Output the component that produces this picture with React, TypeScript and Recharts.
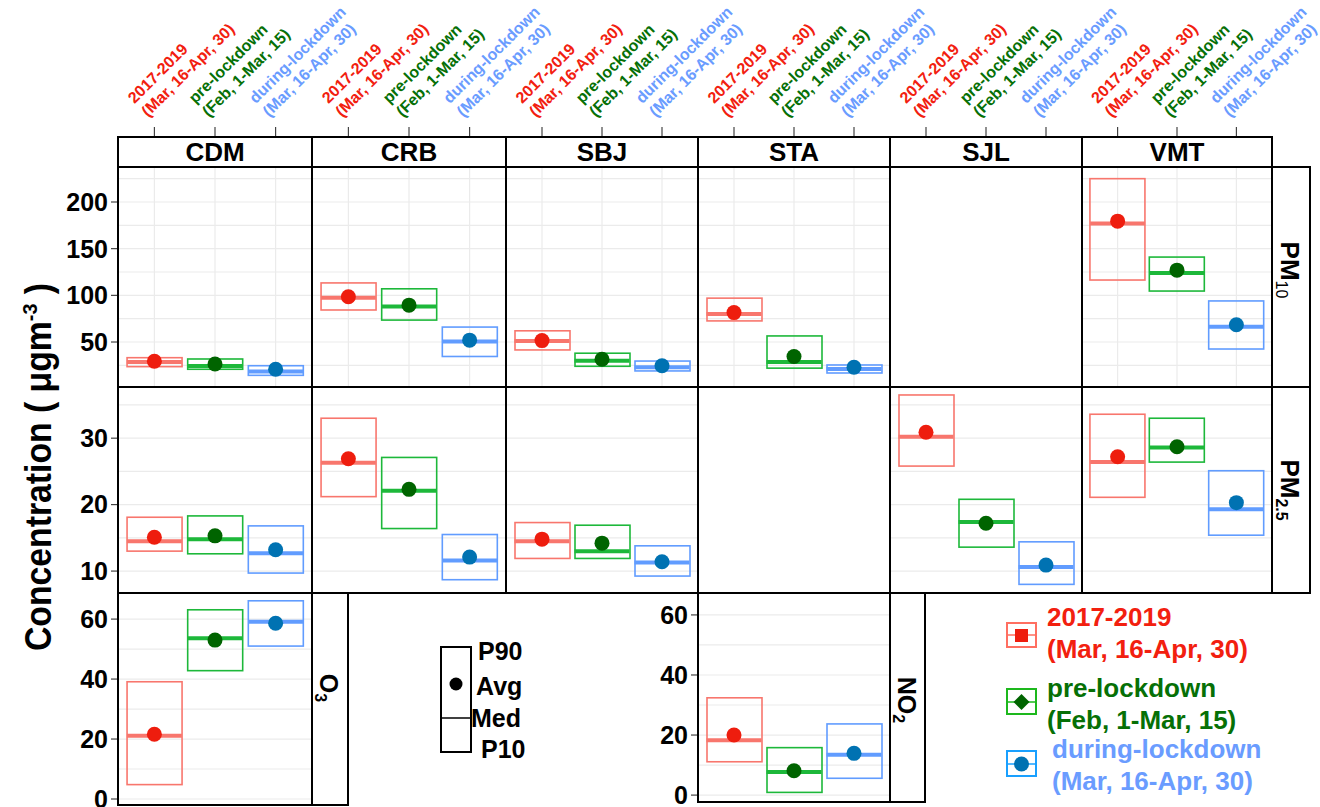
import React from 'react';
import { ComposedChart, Bar, Scatter, XAxis, YAxis, CartesianGrid } from 'recharts';

const FONT = '"Liberation Sans", Arial, Helvetica, sans-serif';

// ---------- data ----------
const periods = ['2017-2019', 'pre-lockdown', 'during-lockdown'];
const periodDates = ['(Mar, 16-Apr, 30)', '(Feb, 1-Mar, 15)', '(Mar, 16-Apr, 30)'];
const stations = ['CDM', 'CRB', 'SBJ', 'STA', 'SJL', 'VMT'];

// PM10 (per station: [2017-2019, pre-lockdown, during-lockdown]); null = no data
const pm10P10 = [[23.6, 20.8, 14.3], [84.3, 73.5, 34.5], [41.5, 24, 19], [72.6, 22, 16.8], null, [116.4, 104.6, 42.5]];
const pm10P90 = [[33.2, 31.8, 24.6], [113.3, 107, 66], [62, 38, 29.6], [97, 56.5, 25.4], null, [225, 141, 94]];
const pm10Med = [[28.6, 24.3, 18.3], [97.5, 88, 50.5], [51, 30, 23], [80, 28.6, 21], null, [177, 124, 66.4]];
const pm10Avg = [[29.4, 26.4, 20.8], [98.5, 89.5, 52], [51.5, 31.5, 24.5], [81.5, 34.5, 23], null, [179.5, 127, 68.5]];

// PM2.5
const pm25P10 = [[13.0, 12.6, 9.7], [21.2, 16.4, 8.7], [11.9, 11.9, 9.25], null, [25.8, 13.6, 8.0], [21.1, 26.4, 15.4]];
const pm25P90 = [[18.1, 18.3, 16.8], [33.0, 27.1, 15.5], [17.3, 16.9, 13.8], null, [36.5, 20.8, 14.4], [33.6, 33.0, 25.1]];
const pm25Med = [[14.5, 14.8, 12.7], [26.3, 22.1, 11.6], [14.5, 13.0, 11.3], null, [30.2, 17.4, 10.6], [26.4, 28.6, 19.3]];
const pm25Avg = [[15.1, 15.3, 13.2], [26.9, 22.3, 12.1], [14.8, 14.2, 11.4], null, [30.9, 17.2, 10.9], [27.2, 28.7, 20.3]];

// O3 (CDM) and NO2 (STA)
const o3P10 = [4.8, 42.8, 51.0];
const o3P90 = [39.1, 63.1, 66.1];
const o3Med = [21.1, 53.6, 59.1];
const o3Avg = [21.6, 53.0, 58.6];
const no2P10 = [11.1, 0.9, 5.6];
const no2P90 = [32.4, 15.8, 23.7];
const no2Med = [18.3, 7.7, 13.4];
const no2Avg = [20.0, 8.1, 13.9];

// axis ticks
const pm10Ticks = [50, 100, 150, 200];
const pm10Grid = [25, 50, 75, 100, 125, 150, 175, 200, 225];
const pm25Ticks = [10, 20, 30];
const pm25Grid = [10, 15, 20, 25, 30, 35];
const gasTicks = [0, 20, 40, 60];
const gasGrid = [0, 10, 20, 30, 40, 50, 60];

// ---------- styles ----------
const labelColors = ['#F2200F', '#067006', '#6A9CFF'];
const boxColors = ['#F8766D', '#1DB83A', '#619CFF'];
const dotColors = ['#EE1D0E', '#006400', '#0072B2'];

// ---------- layout ----------
const colLeft = [118, 312, 506, 698, 890, 1082];
const colRight = [312, 506, 698, 890, 1082, 1272];
const stripTop = 137;
const row1Top = 167;
const row2Top = 387;
const row3Top = 593;
const o3Bottom = 805;
const no2Bottom = 802;

function buildRows(p10: number[], p90: number[], med: number[], avg: number[]) {
  return periods.map((cat, i) => ({ cat, i, range: [p10[i], p90[i]], med: med[i], avg: avg[i] }));
}
const axisOnlyRows = periods.map((cat, i) => ({ cat, i }));

function BoxShape(props: any) {
  const { x, y, width, height, payload } = props;
  const h = Math.abs(height);
  const yy = height < 0 ? y + height : y;
  return <rect x={x} y={yy} width={width} height={h} fill="none" stroke={boxColors[payload.i]} strokeWidth={1.6} />;
}
function MedShape(props: any) {
  const { cx, cy, payload } = props;
  return <line x1={cx - 27.5} x2={cx + 27.5} y1={cy} y2={cy} stroke={boxColors[payload.i]} strokeWidth={4} />;
}
function DotShape(props: any) {
  const { cx, cy, payload } = props;
  return <circle cx={cx} cy={cy} r={7.5} fill={dotColors[payload.i]} />;
}

function TopTick(props: any) {
  const { x, payload } = props;
  const i = periods.indexOf(payload.value);
  return (
    <g>
      <line x1={x} x2={x} y1={127} y2={136} stroke="#333" strokeWidth={1.1} />
      <g transform={`translate(${x},124) rotate(-45)`}>
        <text x={0} y={-28} fill={labelColors[i]} fontFamily={FONT} fontWeight="bold" fontSize={16}>{payload.value}</text>
        <text x={0} y={-9} fill={labelColors[i]} fontFamily={FONT} fontWeight="bold" fontSize={16}>{periodDates[i]}</text>
      </g>
    </g>
  );
}

type PanelProps = {
  left: number; top: number; plotW: number; plotH: number;
  axisW?: number; topAxisH?: number; rows: any[];
  domain: [number, number]; ticks: number[]; grid: number[]; series?: boolean;
};

function Panel({ left, top, plotW, plotH, axisW = 0, topAxisH = 0, rows, domain, ticks, grid, series = true }: PanelProps) {
  const pad = plotW * 0.03125;
  return (
    <div style={{ position: 'absolute', left: left - axisW, top: top - topAxisH }}>
      <ComposedChart width={plotW + axisW} height={plotH + topAxisH} data={rows} margin={{ top: 0, right: 0, bottom: 0, left: 0 }}>
        {series && <CartesianGrid horizontalValues={grid} stroke="#EBEBEB" strokeWidth={1.2} />}
        {topAxisH > 0 ? (
          <XAxis dataKey="cat" scale="band" orientation="top" height={topAxisH} axisLine={false} tickLine={false}
            tick={(p: any) => <TopTick {...p} />} interval={0} padding={{ left: pad, right: pad }} />
        ) : (
          <XAxis dataKey="cat" scale="band" height={0} tick={false} axisLine={false} tickLine={false} interval={0}
            padding={{ left: pad, right: pad }} />
        )}
        <YAxis type="number" domain={domain} ticks={ticks} allowDataOverflow interval={0}
          hide={axisW === 0} width={axisW || 0} axisLine={false} tickSize={7} tickMargin={3}
          tickLine={{ stroke: '#333', strokeWidth: 1.1 }}
          tick={{ fill: '#000', fontSize: 25, fontWeight: 'bold', fontFamily: FONT }} />
        {series && <Bar dataKey="range" barSize={55} shape={(p: any) => <BoxShape {...p} />} isAnimationActive={false} />}
        {series && <Scatter dataKey="med" shape={(p: any) => <MedShape {...p} />} isAnimationActive={false} />}
        {series && <Scatter dataKey="avg" shape={(p: any) => <DotShape {...p} />} isAnimationActive={false} />}
      </ComposedChart>
    </div>
  );
}

const pm10Domain: [number, number] = [1.8, 237.5];
const pm25Domain: [number, number] = [6.7, 37.7];
const o3Domain: [number, number] = [-2, 68.7];
const no2Domain: [number, number] = [-2.3, 67.3];

function Overlay() {
  const t = { fontFamily: FONT, fontWeight: 'bold' as const };
  const cells: React.ReactNode[] = [];
  stations.forEach((s, i) => {
    const w = colRight[i] - colLeft[i];
    cells.push(<rect key={'s' + i} x={colLeft[i]} y={stripTop} width={w} height={row1Top - stripTop} fill="#fff" stroke="#000" strokeWidth={2} />);
    cells.push(<text key={'st' + i} x={colLeft[i] + w / 2} y={161} textAnchor="middle" fontSize={26} {...t}>{s}</text>);
    cells.push(<rect key={'a' + i} x={colLeft[i]} y={row1Top} width={w} height={row2Top - row1Top} fill="none" stroke="#000" strokeWidth={2} />);
    cells.push(<rect key={'b' + i} x={colLeft[i]} y={row2Top} width={w} height={row3Top - row2Top} fill="none" stroke="#000" strokeWidth={2} />);
  });
  return (
    <svg width={1320} height={807} style={{ position: 'absolute', left: 0, top: 0, pointerEvents: 'none' }}>
      {cells}
      {/* right strips */}
      <rect x={1272} y={row1Top} width={38} height={row2Top - row1Top} fill="#fff" stroke="#000" strokeWidth={2} />
      <rect x={1272} y={row2Top} width={38} height={row3Top - row2Top} fill="#fff" stroke="#000" strokeWidth={2} />
      <text transform="translate(1281,270) rotate(90)" textAnchor="middle" {...t} fontSize={26}>
        PM<tspan fontSize={16} fontWeight="normal" dy={5}>10</tspan>
      </text>
      <text transform="translate(1281,490) rotate(90)" textAnchor="middle" {...t} fontSize={26}>
        PM<tspan fontSize={16} dy={5}>2.5</tspan>
      </text>
      {/* O3 panel border + strip */}
      <rect x={colLeft[0]} y={row3Top} width={colRight[0] - colLeft[0]} height={o3Bottom - row3Top} fill="none" stroke="#000" strokeWidth={2} />
      <rect x={312} y={row3Top} width={36} height={o3Bottom - row3Top} fill="#fff" stroke="#000" strokeWidth={2} />
      <text transform="translate(320,688) rotate(90)" textAnchor="middle" {...t} fontSize={25}>
        O<tspan fontSize={16} dy={5}>3</tspan>
      </text>
      {/* NO2 panel border + strip */}
      <rect x={colLeft[3]} y={row3Top} width={colRight[3] - colLeft[3]} height={no2Bottom - row3Top} fill="none" stroke="#000" strokeWidth={2} />
      <rect x={890} y={row3Top} width={35} height={no2Bottom - row3Top} fill="#fff" stroke="#000" strokeWidth={2} />
      <text transform="translate(898,700) rotate(90)" textAnchor="middle" {...t} fontSize={25}>
        NO<tspan fontSize={16} dy={5}>2</tspan>
      </text>
      {/* y title */}
      <text transform="translate(51,467) rotate(-90)" textAnchor="middle" {...t} fontSize={36} textLength={368} lengthAdjust="spacingAndGlyphs">
        Concentration ( μgm<tspan fontSize={21} dy={-14}>-3</tspan><tspan dy={14}> )</tspan>
      </text>
      {/* stat legend */}
      <rect x={441} y={647} width={30} height={105} fill="none" stroke="#000" strokeWidth={2} />
      <circle cx={456} cy={684} r={6.5} fill="#000" />
      <line x1={441} x2={471} y1={718} y2={718} stroke="#000" strokeWidth={1.5} />
      <text x={478} y={660} fontSize={25} {...t}>P90</text>
      <text x={476} y={695} fontSize={25} {...t}>Avg</text>
      <text x={471} y={727} fontSize={25} {...t}>Med</text>
      <text x={481} y={758} fontSize={25} {...t}>P10</text>
      {/* colour legend */}
      <rect x={1007} y={623} width={29} height={24} fill="#fff" stroke="#FF6F61" strokeWidth={2} />
      <line x1={1007} x2={1036} y1={635} y2={635} stroke="#FF6F61" strokeWidth={1.5} />
      <rect x={1015} y={629} width={13} height={13} fill="#EE1D0E" />
      <rect x={1007} y={689} width={29} height={25} fill="#fff" stroke="#1DB81D" strokeWidth={2} />
      <line x1={1007} x2={1036} y1={702} y2={702} stroke="#1DB81D" strokeWidth={1.5} />
      <polygon points="1021.5,694 1029.5,702 1021.5,710 1013.5,702" fill="#006400" />
      <rect x={1007} y={751} width={29} height={25} fill="#fff" stroke="#19A0FF" strokeWidth={2} />
      <line x1={1007} x2={1036} y1={764} y2={764} stroke="#19A0FF" strokeWidth={1.5} />
      <circle cx={1021.5} cy={764} r={7.5} fill="#0072B2" />
      <text x={1047} y={626} fontSize={26} fill={labelColors[0]} {...t}>{periods[0]}</text>
      <text x={1047} y={658} fontSize={26} fill={labelColors[0]} {...t}>{periodDates[0]}</text>
      <text x={1047} y={697} fontSize={26} fill={labelColors[1]} {...t}>{periods[1]}</text>
      <text x={1047} y={729} fontSize={26} fill={labelColors[1]} {...t}>{periodDates[1]}</text>
      <text x={1052} y={758} fontSize={26} fill={labelColors[2]} {...t}>{periods[2]}</text>
      <text x={1052} y={790} fontSize={26} fill={labelColors[2]} {...t}>{periodDates[2]}</text>
    </svg>
  );
}

export default function App() {
  const panels: React.ReactNode[] = [];
  stations.forEach((s, i) => {
    const w = colRight[i] - colLeft[i];
    const p10 = pm10P10[i], p90 = pm10P90[i], med = pm10Med[i], avg = pm10Avg[i];
    panels.push(
      <Panel key={'pm10' + s} left={colLeft[i]} top={row1Top} plotW={w} plotH={row2Top - row1Top}
        axisW={i === 0 ? 118 : 0} topAxisH={row1Top}
        rows={p10 && p90 && med && avg ? buildRows(p10, p90, med, avg) : axisOnlyRows}
        series={!!p10} domain={pm10Domain} ticks={pm10Ticks} grid={pm10Grid} />
    );
    const q10 = pm25P10[i], q90 = pm25P90[i], qmed = pm25Med[i], qavg = pm25Avg[i];
    if (q10 && q90 && qmed && qavg) {
      panels.push(
        <Panel key={'pm25' + s} left={colLeft[i]} top={row2Top} plotW={w} plotH={row3Top - row2Top}
          axisW={i === 0 ? 118 : 0} rows={buildRows(q10, q90, qmed, qavg)}
          domain={pm25Domain} ticks={pm25Ticks} grid={pm25Grid} />
      );
    }
  });
  panels.push(
    <Panel key="o3" left={colLeft[0]} top={row3Top} plotW={colRight[0] - colLeft[0]} plotH={o3Bottom - row3Top}
      axisW={118} rows={buildRows(o3P10, o3P90, o3Med, o3Avg)} domain={o3Domain} ticks={gasTicks} grid={gasGrid} />
  );
  panels.push(
    <Panel key="no2" left={colLeft[3]} top={row3Top} plotW={colRight[3] - colLeft[3]} plotH={no2Bottom - row3Top}
      axisW={62} rows={buildRows(no2P10, no2P90, no2Med, no2Avg)} domain={no2Domain} ticks={gasTicks} grid={gasGrid} />
  );
  return (
    <div style={{ position: 'absolute', left: 0, top: 0, width: 1320, height: 807, background: '#fff', overflow: 'hidden', fontFamily: FONT }}>
      <style>{'.recharts-wrapper, .recharts-surface { overflow: visible !important; }'}</style>
      {panels}
      <Overlay />
    </div>
  );
}
